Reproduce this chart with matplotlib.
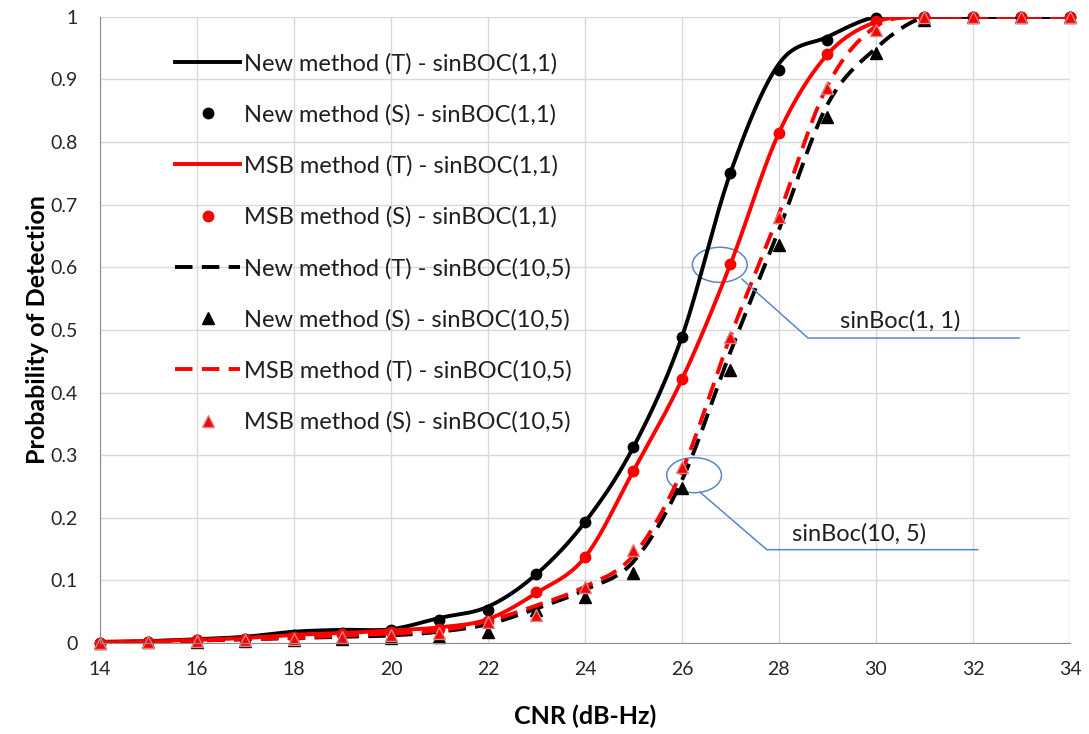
import numpy as np
import matplotlib.pyplot as plt
from matplotlib.patches import Ellipse
from matplotlib.ticker import FuncFormatter

plt.rcParams['font.family'] = ['Lato', 'DejaVu Sans']

# CNR axis (dB-Hz)
cnr = list(range(14, 35))

# theoretical curves
new_t_11 = [0.001, 0.003, 0.006, 0.010, 0.018, 0.021, 0.022, 0.040, 0.058, 0.110, 0.193,
            0.313, 0.489, 0.751, 0.925, 0.968, 1.0, 1.0, 1.0, 1.0, 1.0]
msb_t_11 = [0.002, 0.003, 0.005, 0.008, 0.013, 0.016, 0.020, 0.025, 0.038, 0.080, 0.137,
            0.275, 0.421, 0.605, 0.815, 0.940, 0.992, 1.0, 1.0, 1.0, 1.0]
new_t_105 = [0.0, 0.002, 0.004, 0.006, 0.008, 0.010, 0.012, 0.018, 0.030, 0.055, 0.085,
             0.130, 0.260, 0.465, 0.660, 0.860, 0.950, 1.0, 1.0, 1.0, 1.0]
msb_t_105 = [0.0, 0.002, 0.004, 0.006, 0.008, 0.012, 0.015, 0.020, 0.035, 0.060, 0.090,
             0.140, 0.275, 0.490, 0.685, 0.890, 0.985, 1.0, 1.0, 1.0, 1.0]

# simulation points
new_s_11 = [0.0, 0.002, 0.004, 0.007, 0.012, 0.016, 0.020, 0.037, 0.053, 0.110, 0.193,
            0.313, 0.489, 0.751, 0.915, 0.963, 0.998, 1.0, 1.0, 1.0, 1.0]
msb_s_11 = [0.0, 0.002, 0.004, 0.007, 0.010, 0.014, 0.018, 0.022, 0.035, 0.081, 0.137,
            0.275, 0.422, 0.606, 0.815, 0.940, 0.994, 1.0, 1.0, 1.0, 1.0]
new_s_105 = [0.0, 0.001, 0.002, 0.003, 0.004, 0.006, 0.008, 0.010, 0.018, 0.053, 0.074,
             0.112, 0.248, 0.436, 0.635, 0.840, 0.942, 0.995, 1.0, 1.0, 1.0]
msb_s_105 = [0.0, 0.002, 0.003, 0.004, 0.006, 0.009, 0.012, 0.016, 0.034, 0.045, 0.090,
             0.149, 0.281, 0.489, 0.680, 0.887, 0.979, 1.0, 1.0, 1.0, 1.0]

labels = ["New method (T) - sinBOC(1,1)", "New method (S) - sinBOC(1,1)",
          "MSB method (T) - sinBOC(1,1)", "MSB method (S) - sinBOC(1,1)",
          "New method (T) - sinBOC(10,5)", "New method (S) - sinBOC(10,5)",
          "MSB method (T) - sinBOC(10,5)", "MSB method (S) - sinBOC(10,5)"]


def smooth(x, y, n=20):
    # Catmull-Rom style smoothing like the spreadsheet's "smoothed line"
    x = np.asarray(x, float)
    y = np.asarray(y, float)
    m = np.zeros_like(y)
    m[1:-1] = (y[2:] - y[:-2]) / 2
    m[0] = y[1] - y[0]
    m[-1] = y[-1] - y[-2]
    xs, ys = [], []
    for i in range(len(x) - 1):
        t = np.linspace(0, 1, n, endpoint=False)
        h00 = 2 * t**3 - 3 * t**2 + 1
        h10 = t**3 - 2 * t**2 + t
        h01 = -2 * t**3 + 3 * t**2
        h11 = t**3 - t**2
        xs.append(x[i] + t * (x[i + 1] - x[i]))
        ys.append(h00 * y[i] + h10 * m[i] + h01 * y[i + 1] + h11 * m[i + 1])
    xs.append([x[-1]])
    ys.append([y[-1]])
    return np.concatenate(xs), np.concatenate(ys)


fig = plt.figure(figsize=(10.89, 7.34), dpi=100)
ax = fig.add_axes([0.0918, 0.124, 0.8907, 0.853])

lw = 2.8
dash = (4.5, 2.4)
tri_edge = '#d08a8a'

xs, ys = smooth(cnr, new_t_11)
ax.plot(xs, ys, color='black', lw=lw, label=labels[0])
ax.plot(cnr, new_s_11, 'o', color='black', ms=7.5, ls='none', clip_on=False, label=labels[1])
xs, ys = smooth(cnr, msb_t_11)
ax.plot(xs, ys, color='#ff0000', lw=lw, label=labels[2])
ax.plot(cnr, msb_s_11, 'o', color='#ff0000', ms=7.5, ls='none', clip_on=False, label=labels[3])
xs, ys = smooth(cnr, new_t_105)
ax.plot(xs, ys, color='black', lw=lw, ls=(0, dash), label=labels[4])
ax.plot(cnr, new_s_105, '^', color='black', ms=8, ls='none', clip_on=False, label=labels[5])
xs, ys = smooth(cnr, msb_t_105)
ax.plot(xs, ys, color='#ff0000', lw=lw, ls=(0, dash), label=labels[6])
ax.plot(cnr, msb_s_105, '^', color='#ff0000', mec=tri_edge, mew=1, ms=8.5, ls='none',
        clip_on=False, label=labels[7])

# annotations
ann_color = '#5b86c4'
ax.add_patch(Ellipse((26.78, 0.604), 1.13, 0.056, fill=False, ec=ann_color, lw=1.1))
ax.plot([27.24, 28.60, 32.95], [0.581, 0.487, 0.487], color=ann_color, lw=1.1)
ax.text(29.26, 0.515, "sinBoc(1, 1)", fontsize=17, color='#1f1f1f', va='center', ha='left')
ax.add_patch(Ellipse((26.25, 0.268), 1.13, 0.056, fill=False, ec=ann_color, lw=1.1))
ax.plot([26.37, 27.75, 32.10], [0.241, 0.149, 0.149], color=ann_color, lw=1.1)
ax.text(28.27, 0.175, "sinBoc(10, 5)", fontsize=17, color='#1f1f1f', va='center', ha='left')

ax.set_xlim(14, 34)
ax.set_ylim(0, 1)
ax.set_xticks(range(14, 35, 2))
ax.set_yticks(np.arange(0, 1.01, 0.1))
ax.yaxis.set_major_formatter(FuncFormatter(lambda v, p: f"{v:.1f}".rstrip('0').rstrip('.') if v else "0"))
ax.grid(True, color='#d9d9d9', lw=1)
ax.set_axisbelow(True)
for s in ['top', 'right']:
    ax.spines[s].set_visible(False)
ax.spines['left'].set_color('#8c8c8c')
ax.spines['bottom'].set_color('#8c8c8c')
ax.tick_params(axis='both', length=0, labelsize=14, labelcolor='#262626')
ax.tick_params(axis='y', pad=16)
ax.tick_params(axis='x', pad=13)

ax.set_xlabel("CNR (dB-Hz)", fontsize=18, fontweight='bold', labelpad=19)
ax.set_ylabel("Probability of Detection", fontsize=18, fontweight='bold', labelpad=1)

ax.legend(loc='upper left', bbox_to_anchor=(0.068, 0.958), frameon=False, fontsize=17,
          handlelength=2.75, handletextpad=0.17, labelspacing=1.26, borderaxespad=0,
          labelcolor='#1f1f1f')

fig.savefig('out.png', dpi=100)
